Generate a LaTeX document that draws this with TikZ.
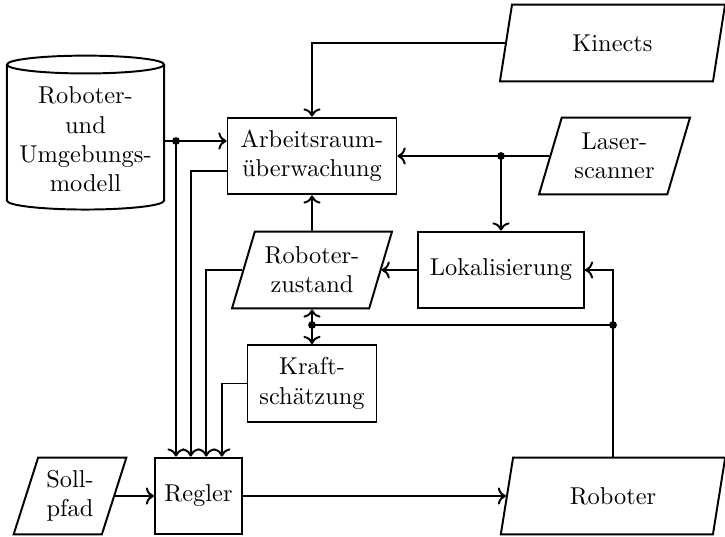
\documentclass[tikz,border=0pt]{standalone}
\usetikzlibrary{shapes.geometric}
\usetikzlibrary{arrows.meta, positioning}

\tikzset{
  block/.style={draw, thick, rectangle, minimum height=31.5pt, align=center},
  iobox/.style={draw, thick, trapezium, trapezium left angle=70, trapezium right angle=110,
    trapezium stretches body, minimum height=31.5pt, align=center},
  dbase/.style={draw, thick, cylinder, shape border rotate=90, aspect=0.12,
    minimum width=64.4pt, minimum height=63.1pt, align=center},
  flow/.style={thick, ->}
}

\begin{document}
\begin{tikzpicture}[x=0.41pt, y=-0.41pt]
        \useasboundingbox (0,0) rectangle (725,536);

        % Nodes
        \node[dbase] (modell) at (85.5,139.5) {Roboter-\\und\\Umgebungs-\\modell};
        \node[block, minimum width=69.3pt] (arbeit) at (312,156) {Arbeitsraum-\\überwachung};
        \node[iobox, minimum width=92.3pt] (kinects) at (612.5,43) {Kinects};
        \node[iobox, minimum width=61.9pt] (laser) at (614.5,156) {Laser-\\scanner};
        \node[iobox, minimum width=65.6pt] (zustand) at (312,270) {Roboter-\\zustand};
        \node[block, minimum width=68pt] (lokal) at (501,270) {Lokalisierung};
        \node[block, minimum width=52.9pt] (kraft) at (312,383.5) {Kraft-\\schätzung};
        \node[iobox, minimum width=43.5pt] (soll) at (70,496) {Soll-\\pfad};
        \node[block, minimum width=35.7pt] (regler) at (198.5,496) {Regler};
        \node[iobox, minimum width=92pt] (roboter) at (613,496) {Roboter};

        % Junctions
        \coordinate (d1) at (176,141);
        \coordinate (d2) at (arbeit.east -| lokal.north);
        \coordinate (d3) at (roboter.north |- 0,325);
        \coordinate (d4) at (d3 -| zustand.south);

        % Inputs of the controller
        \coordinate (in1) at (d1 |- regler.north);
        \coordinate (in2) at ([xshift=-3.2pt]regler.north);
        \coordinate (in3) at ([xshift=3.2pt]regler.north);
        \coordinate (in4) at ([xshift=9.6pt]regler.north);

        % Sensors
        \draw[flow] (kinects.west) -| (arbeit.north);
        \draw[flow] (laser.west) -- (arbeit.east);
        \draw[flow] (d2) -- (lokal.north);

        % Model
        \draw[flow] (modell.east |- d1) -- (d1 -| arbeit.west);
        \draw[flow] (d1) -- (in1);

        % Into the controller
        \draw[flow] ([yshift=-6pt]arbeit.west) -| (in2);
        \draw[flow] (zustand.west) -| (in3);
        \draw[flow] (kraft.west) -| (in4);

        % State
        \draw[flow] (lokal.west) -- (zustand.east);
        \draw[flow] (zustand.north) -- (arbeit.south);
        \draw[thick, <->] (zustand.south) -- (kraft.north);
        \draw[flow] (roboter.north) |- (lokal.east);
        \draw[thick] (d3) -- (d4);

        % Main path
        \draw[flow] (soll.east) -- (regler.west);
        \draw[flow] (regler.east) -- (roboter.west);

        % Mark the junctions
        \fill (d1) circle (1.6pt);
        \fill (d2) circle (1.6pt);
        \fill (d3) circle (1.6pt);
        \fill (d4) circle (1.6pt);
    \end{tikzpicture}
\end{document}
